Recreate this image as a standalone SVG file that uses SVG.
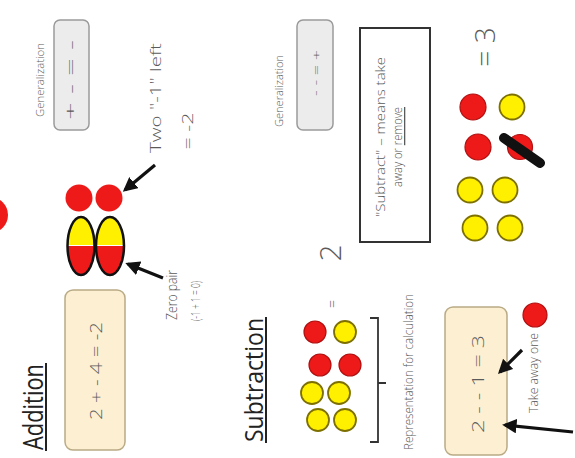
<svg xmlns="http://www.w3.org/2000/svg" width="575" height="458" viewBox="0 0 575 458">
  <defs>
    <style>
      .lbl { font-family: "Open Sans", "DejaVu Sans", "Liberation Sans", sans-serif; font-weight: 300; fill: #5a5a5a; }
      .head { font-family: "Open Sans", "DejaVu Sans", "Liberation Sans", sans-serif; font-weight: 400; fill: #222; }
      .red { fill: #ee1a1a; stroke: #b01010; stroke-width: 1.2; }
      .yel { fill: #fff000; stroke: #7d7000; stroke-width: 1.8; }
      .genbox { fill: #ececec; stroke: #9a9a9a; stroke-width: 1.5; }
      .calcbox { fill: #fcefd2; stroke: #b9ab85; stroke-width: 1.5; }
      .arrow { stroke: #111; stroke-width: 3.2; fill: none; marker-end: url(#ah); }
    </style>
    <marker id="ah" viewBox="0 0 10 10" refX="8" refY="5" markerWidth="4.5" markerHeight="4.5" orient="auto">
      <path d="M0,0 L10,5 L0,10 z" fill="#111"/>
    </marker>
    <clipPath id="topHalf1"><rect x="60" y="210" width="40" height="35"/></clipPath>
    <clipPath id="botHalf1"><rect x="60" y="246" width="40" height="40"/></clipPath>
    <clipPath id="topHalf2"><rect x="90" y="210" width="40" height="35"/></clipPath>
    <clipPath id="botHalf2"><rect x="90" y="246" width="40" height="40"/></clipPath>
  </defs>

  <rect width="575" height="458" fill="#ffffff"/>

  <!-- counter cut off at the left edge -->
  <g id="edge-counter">
    <circle cx="-10" cy="215" r="18" fill="#ee1a1a"/>
  </g>

  <!-- Addition heading -->
  <g id="addition-title">
    <text class="head" transform="translate(32,407) rotate(-90)" text-anchor="middle" dominant-baseline="central" font-size="27" textLength="86" lengthAdjust="spacingAndGlyphs">Addition</text>
    <line x1="46" y1="363" x2="46" y2="451" stroke="#222" stroke-width="2"/>
  </g>

  <!-- Addition calculation -->
  <g id="addition-calc">
    <rect class="calcbox" x="65" y="290" width="60" height="160" rx="8"/>
    <text class="lbl" transform="translate(95,371) rotate(-90)" text-anchor="middle" dominant-baseline="central" font-size="17" textLength="98" lengthAdjust="spacingAndGlyphs">2 + - 4 = -2</text>
  </g>

  <!-- Generalization (addition) -->
  <g id="gen-addition">
    <text class="lbl" transform="translate(39,80) rotate(-90)" text-anchor="middle" dominant-baseline="central" font-size="11" textLength="74" lengthAdjust="spacingAndGlyphs">Generalization</text>
    <rect class="genbox" x="54" y="20" width="35" height="110" rx="6"/>
    <text class="lbl" transform="translate(70,80) rotate(-90)" text-anchor="middle" dominant-baseline="central" font-size="15" textLength="80" lengthAdjust="spacingAndGlyphs" fill="#444">+  -  =  -</text>
  </g>

  <!-- Counters: two negatives left over -->
  <g id="left-over">
    <circle cx="79" cy="198" r="13.5" fill="#ee1a1a"/>
    <circle cx="109" cy="198" r="13.5" fill="#ee1a1a"/>
  </g>

  <!-- Zero pairs -->
  <g id="zero-pairs">
    <ellipse cx="81" cy="246" rx="13.5" ry="29" fill="#fff000" clip-path="url(#topHalf1)"/>
    <ellipse cx="81" cy="246" rx="13.5" ry="29" fill="#ee1a1a" clip-path="url(#botHalf1)"/>
    <ellipse cx="81" cy="246" rx="13.5" ry="29" fill="none" stroke="#111" stroke-width="2.5"/>
    <ellipse cx="110" cy="246" rx="14" ry="29" fill="#fff000" clip-path="url(#topHalf2)"/>
    <ellipse cx="110" cy="246" rx="14" ry="29" fill="#ee1a1a" clip-path="url(#botHalf2)"/>
    <ellipse cx="110" cy="246" rx="14" ry="29" fill="none" stroke="#111" stroke-width="2.5"/>
  </g>

  <!-- Annotations (addition) -->
  <g id="note-left">
    <text class="lbl" transform="translate(155,98) rotate(-90)" text-anchor="middle" dominant-baseline="central" font-size="14" textLength="110" lengthAdjust="spacingAndGlyphs">Two "-1" left</text>
    <text class="lbl" transform="translate(187,131) rotate(-90)" text-anchor="middle" dominant-baseline="central" font-size="14" textLength="37" lengthAdjust="spacingAndGlyphs">= -2</text>
  </g>
  <g id="note-zero">
    <text class="lbl" transform="translate(171,295) rotate(-90)" text-anchor="middle" dominant-baseline="central" font-size="14" textLength="50" lengthAdjust="spacingAndGlyphs">Zero pair</text>
    <text class="lbl" transform="translate(195,301) rotate(-90)" text-anchor="middle" dominant-baseline="central" font-size="13" textLength="40" lengthAdjust="spacingAndGlyphs">(-1 + 1 = 0)</text>
  </g>

  <!-- Generalization (subtraction) -->
  <g id="gen-subtraction">
    <text class="lbl" transform="translate(278,91) rotate(-90)" text-anchor="middle" dominant-baseline="central" font-size="11" textLength="72" lengthAdjust="spacingAndGlyphs">Generalization</text>
    <rect class="genbox" x="297" y="20" width="36" height="110" rx="6"/>
    <text class="lbl" transform="translate(315,73) rotate(-90)" text-anchor="middle" dominant-baseline="central" font-size="11" textLength="46" lengthAdjust="spacingAndGlyphs" fill="#444">-  -  =  +</text>
  </g>

  <!-- Meaning of subtract -->
  <g id="subtract-meaning">
    <rect x="360" y="28" width="70" height="214" fill="#ffffff" stroke="#333" stroke-width="2"/>
    <text class="lbl" transform="translate(380,137) rotate(-90)" text-anchor="middle" dominant-baseline="central" font-size="13" textLength="160" lengthAdjust="spacingAndGlyphs">"Subtract" – means take</text>
    <text class="lbl" transform="translate(397,147) rotate(-90)" text-anchor="middle" dominant-baseline="central" font-size="13" textLength="80" lengthAdjust="spacingAndGlyphs">away or <tspan text-decoration="underline">remove</tspan></text>
  </g>

  <!-- Result -->
  <g id="result">
    <text class="lbl" transform="translate(484,47) rotate(-90)" text-anchor="middle" dominant-baseline="central" font-size="28" fill="#444">= 3</text>
  </g>

  <!-- Counters after removing one -->
  <g id="counters-after">
    <circle class="red" cx="473" cy="107" r="13"/>
    <circle class="yel" cx="512" cy="107" r="12.5"/>
    <circle class="red" cx="478" cy="147" r="13"/>
    <circle class="red" cx="520" cy="147" r="12.5"/>
    <line x1="504" y1="138" x2="540" y2="163" stroke="#111" stroke-width="10" stroke-linecap="round"/>
    <circle class="yel" cx="470" cy="190" r="12.5"/>
    <circle class="yel" cx="505" cy="190" r="12.5"/>
    <circle class="yel" cx="475" cy="228" r="12.5"/>
    <circle class="yel" cx="510" cy="228" r="12.5"/>
  </g>

  <!-- Subtraction heading -->
  <g id="subtraction-title">
    <text class="head" transform="translate(253,380) rotate(-90)" text-anchor="middle" dominant-baseline="central" font-size="25" textLength="124" lengthAdjust="spacingAndGlyphs">Subtraction</text>
    <line x1="266" y1="317" x2="266" y2="443" stroke="#222" stroke-width="2"/>
  </g>

  <!-- Starting value -->
  <g id="start-value">
    <text class="lbl" transform="translate(329,253) rotate(-90)" text-anchor="middle" dominant-baseline="central" font-size="30" fill="#444">2</text>
    <text class="lbl" transform="translate(331,304) rotate(-90)" text-anchor="middle" dominant-baseline="central" font-size="14" fill="#444">=</text>
  </g>

  <!-- Counters representing 2 -->
  <g id="counters-before">
    <circle class="red" cx="315" cy="332" r="11"/>
    <circle class="yel" cx="345" cy="332" r="11"/>
    <circle class="red" cx="320" cy="365" r="11"/>
    <circle class="red" cx="350" cy="365" r="11"/>
    <circle class="yel" cx="312" cy="393" r="11"/>
    <circle class="yel" cx="339" cy="393" r="11"/>
    <circle class="yel" cx="318" cy="420" r="11"/>
    <circle class="yel" cx="345" cy="420" r="11"/>
  </g>

  <!-- Bracket with caption -->
  <g id="representation">
    <path d="M370,318 H378 V442 H370 M378,383 H386" fill="none" stroke="#333" stroke-width="1.8"/>
    <text class="lbl" transform="translate(408,372) rotate(-90)" text-anchor="middle" dominant-baseline="central" font-size="12" textLength="156" lengthAdjust="spacingAndGlyphs">Representation for calculation</text>
  </g>

  <!-- Subtraction calculation -->
  <g id="subtraction-calc">
    <rect class="calcbox" x="445" y="307" width="62" height="148" rx="8"/>
    <text class="lbl" transform="translate(477,384) rotate(-90)" text-anchor="middle" dominant-baseline="central" font-size="17" textLength="98" lengthAdjust="spacingAndGlyphs">2 - - 1 = 3</text>
  </g>

  <!-- Take away one -->
  <g id="take-away">
    <circle class="red" cx="535" cy="315" r="12"/>
    <text class="lbl" transform="translate(533,373) rotate(-90)" text-anchor="middle" dominant-baseline="central" font-size="12" textLength="80" lengthAdjust="spacingAndGlyphs">Take away one</text>
  </g>

  <!-- Connectors -->
  <g id="connectors">
    <line class="arrow" x1="155" y1="165" x2="125" y2="190"/>
    <line class="arrow" x1="163" y1="278" x2="128" y2="264"/>
    <line class="arrow" x1="522" y1="350" x2="500" y2="372"/>
    <line class="arrow" x1="573" y1="432" x2="505" y2="425"/>
  </g>
</svg>
